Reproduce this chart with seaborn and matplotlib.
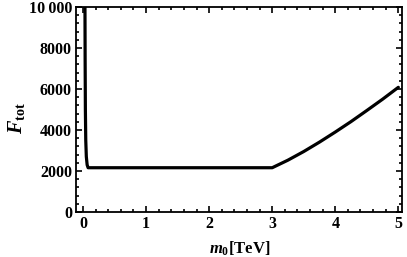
import matplotlib
matplotlib.use("Agg")
import matplotlib.pyplot as plt
import seaborn as sns
import pandas as pd
from matplotlib.ticker import MultipleLocator, FuncFormatter

# curve
m0 = [0.03, 0.033, 0.037, 0.043, 0.052, 0.065, 0.08, 1.0, 2.0, 3.0,
      3.25, 3.5, 3.75, 4.0, 4.25, 4.5, 4.75, 5.0]
ftot = [10500, 7500, 5000, 3500, 2700, 2300, 2160, 2160, 2160, 2160,
        2530, 2950, 3410, 3900, 4410, 4950, 5500, 6080]

df = pd.DataFrame({"m0": m0, "ftot": ftot})

sns.set_style("ticks")
plt.rcParams["font.family"] = ["Liberation Serif", "DejaVu Serif"]
plt.rcParams["font.weight"] = "bold"
plt.rcParams["mathtext.fontset"] = "custom"
plt.rcParams["mathtext.rm"] = "Liberation Serif:bold"
plt.rcParams["mathtext.it"] = "Liberation Serif:italic:bold"
plt.rcParams["mathtext.bf"] = "Liberation Serif:bold"
for k in ["text.color", "axes.labelcolor", "xtick.color", "ytick.color", "axes.edgecolor"]:
    plt.rcParams[k] = "black"

fig = plt.figure(figsize=(4.07, 2.57), dpi=100)
ax = fig.add_axes([0.187, 0.175, 0.801, 0.798])

sns.lineplot(data=df, x="m0", y="ftot", sort=False, color="black", lw=2.3, ax=ax)

ax.set_xlim(-0.11, 5.06)
ax.set_ylim(0, 10000)
ax.xaxis.set_major_locator(MultipleLocator(1))
ax.xaxis.set_minor_locator(MultipleLocator(0.2))
ax.yaxis.set_major_locator(MultipleLocator(2000))
ax.yaxis.set_minor_locator(MultipleLocator(400))
ax.yaxis.set_major_formatter(FuncFormatter(
    lambda v, p: "10\u2009000" if v >= 10000 else f"{int(v)}"))

ax.tick_params(which="both", direction="in", top=True, right=True, width=1.2,
               labelsize=11.5, pad=3)
ax.tick_params(which="major", length=4)
ax.tick_params(which="minor", length=2)
for lab in ax.get_xticklabels() + ax.get_yticklabels():
    lab.set_fontweight("bold")
for s in ax.spines.values():
    s.set_linewidth(1.3)

ax.set_xlabel(r"$m_0$[TeV]", fontsize=12, fontweight="bold")
ax.set_ylabel(r"$F_{\rm tot}$", fontsize=14.5, fontweight="bold")
ax.xaxis.set_label_coords(0.503, -0.135)
ax.yaxis.set_label_coords(-0.15, 0.46)

fig.savefig("out.png", dpi=100)
